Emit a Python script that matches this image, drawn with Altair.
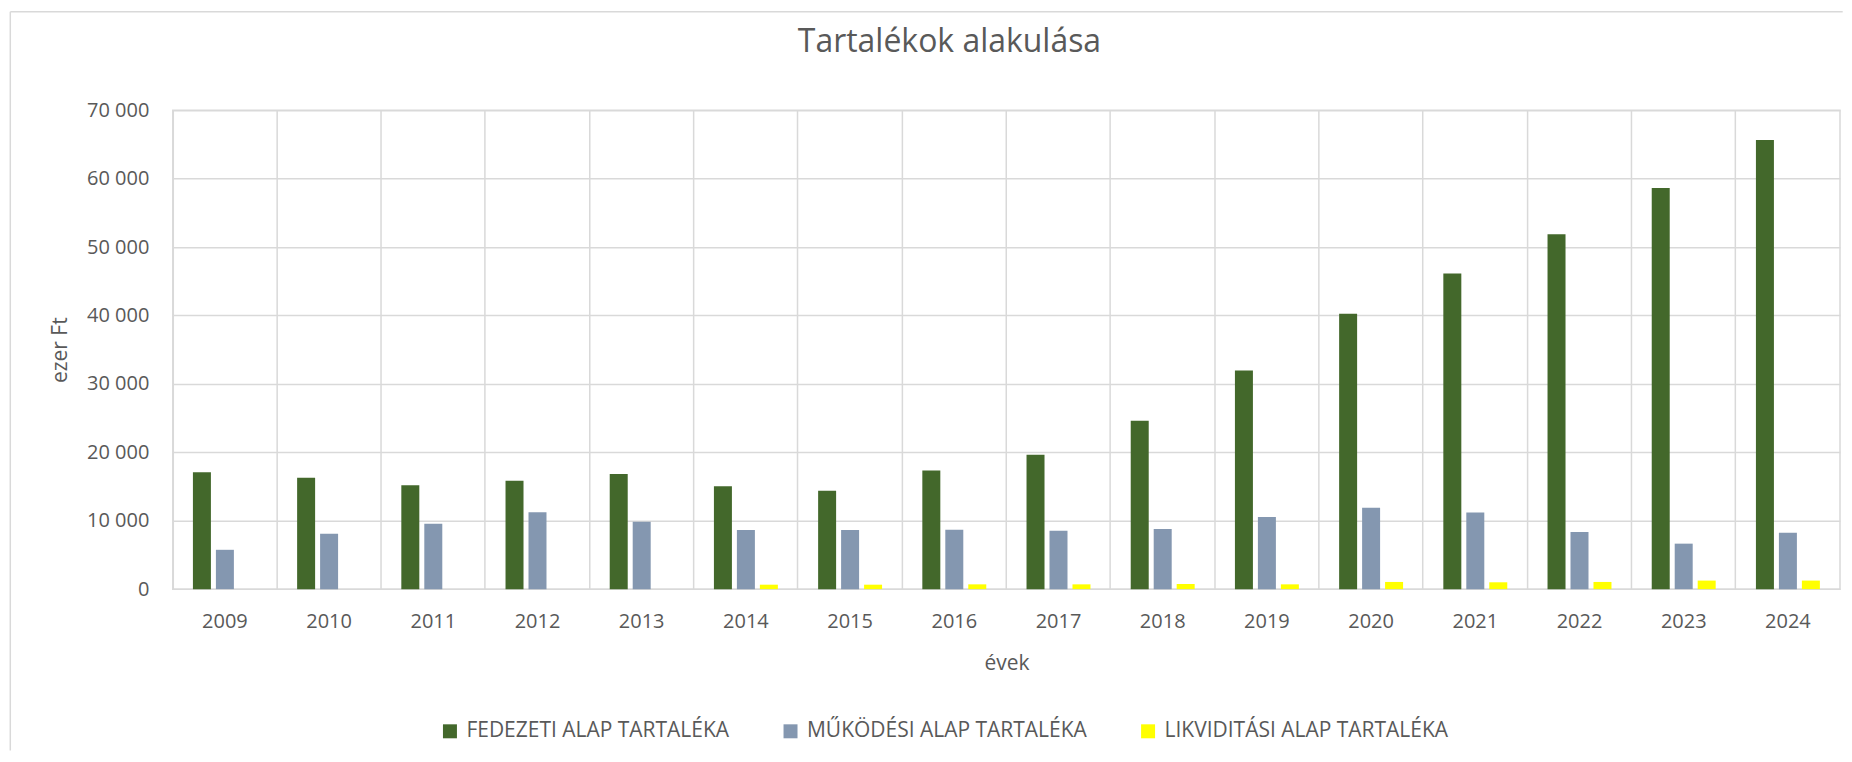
import altair as alt
import pandas as pd

years = [str(y) for y in range(2009, 2025)]
series = ["FEDEZETI ALAP TARTALÉKA", "MŰKÖDÉSI ALAP TARTALÉKA", "LIKVIDITÁSI ALAP TARTALÉKA"]
colors = ["#43682b", "#8497b0", "#ffff00"]

fedezeti = [17100, 16300, 15200, 15850, 16850, 15050, 14400, 17350,
            19650, 24600, 31950, 40250, 46150, 51900, 58650, 65650]
mukodesi = [5750, 8100, 9550, 11250, 9850, 8650, 8650, 8700,
            8550, 8800, 10550, 11900, 11200, 8350, 6650, 8250]
likviditasi = [None, None, None, None, None, 650, 650, 700,
               700, 750, 700, 1050, 1000, 1050, 1250, 1250]

rows = []
for vals, name in zip([fedezeti, mukodesi, likviditasi], series):
    for y, v in zip(years, vals):
        if v is not None:
            rows.append({"year": y, "series": name, "value": v})
df = pd.DataFrame(rows)

FONT = "Open Sans"
TXT = "#595959"
GRID = "#d9d9d9"
W = 1669.3
H = 479.4

bars = alt.Chart(df).mark_bar().encode(
    x=alt.X("year:N", sort=years, title="évek",
            scale=alt.Scale(paddingInner=0, paddingOuter=0),
            axis=alt.Axis(labelAngle=0, grid=True, bandPosition=0, gridColor=GRID,
                          gridWidth=1.5, domain=False, ticks=False,
                          labelPadding=22, titlePadding=21)),
    xOffset=alt.XOffset("series:N", sort=series,
                        scale=alt.Scale(domain=series, paddingInner=0.217, paddingOuter=0.876)),
    y=alt.Y("value:Q", title="ezer Ft",
            scale=alt.Scale(domain=[0, 70000], nice=False),
            axis=alt.Axis(values=list(range(0, 70001, 10000)), gridColor=GRID, gridWidth=1.5,
                          domain=False, ticks=False, labelPadding=24, titlePadding=16,
                          labelExpr="replace(format(datum.value, ','), ',', ' ')")),
    color=alt.Color("series:N", sort=series,
                    scale=alt.Scale(domain=series, range=colors),
                    legend=alt.Legend(title=None, orient="none", direction="horizontal",
                                      legendX=267, legendY=611, symbolType="square",
                                      symbolSize=196, symbolStrokeWidth=0,
                                      labelFontSize=21, labelColor=TXT, labelFont=FONT,
                                      labelOffset=6, columnPadding=50, labelLimit=600)),
)

frame = pd.DataFrame({"a": [0]})
top_line = alt.Chart(frame).mark_rule(color=GRID, strokeWidth=1.5).encode(
    x=alt.value(-162.7), x2=alt.value(1672), y=alt.value(-98.6))
left_line = alt.Chart(frame).mark_rule(color=GRID, strokeWidth=1.5).encode(
    x=alt.value(-162.7), y=alt.value(-98.6), y2=alt.value(641))

chart = alt.layer(top_line, left_line, bars).properties(
    width=W, height=H,
    background="white",
    padding={"left": 1, "top": 2, "right": 0, "bottom": 0},
    title=alt.TitleParams("Tartalékok alakulása", fontSize=32, color=TXT, font=FONT,
                          fontWeight="normal", dx=-57, dy=33, offset=-39.6,
                          baseline="alphabetic"),
).configure_view(stroke=GRID, strokeWidth=1.5).configure_axis(
    labelFont=FONT, titleFont=FONT, labelColor=TXT, titleColor=TXT,
    labelFontSize=20, titleFontSize=21, titleFontWeight="normal",
)

chart.save("out.html", embed_options={"renderer": "svg", "actions": False})
